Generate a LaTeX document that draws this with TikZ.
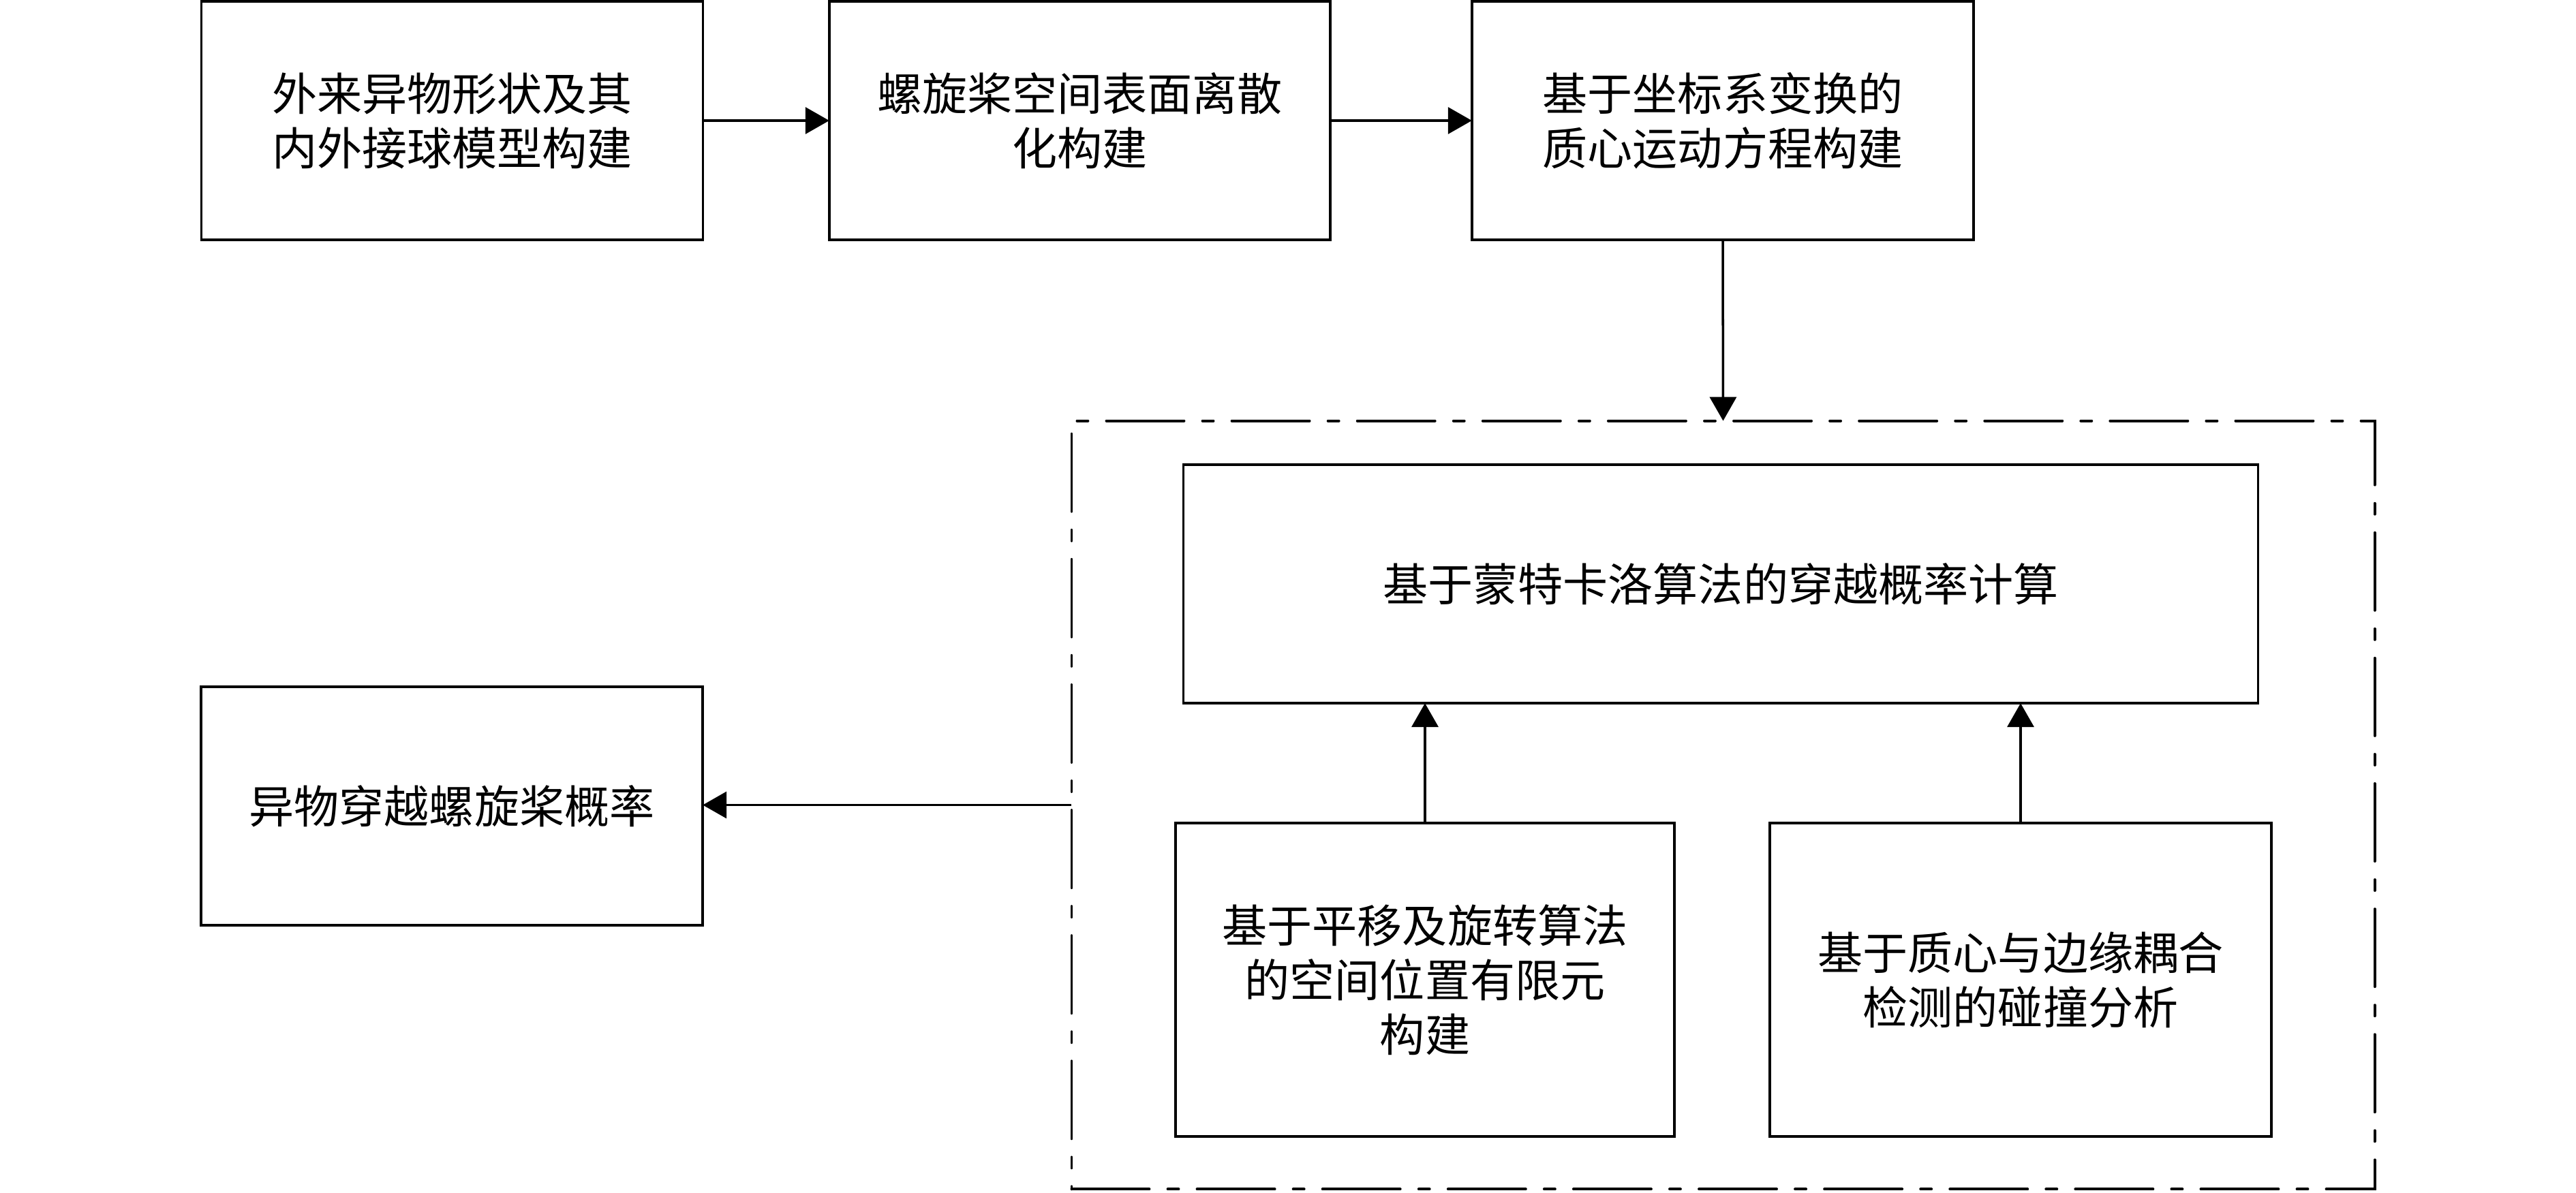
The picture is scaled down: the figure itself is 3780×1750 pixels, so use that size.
\documentclass[tikz,border=0pt]{standalone}
\usepackage{fontspec}
\newfontfamily\cjk{Noto Sans CJK SC}
\usetikzlibrary{arrows.meta}
\begin{document}
\begin{tikzpicture}[x=0.01cm,y=-0.01cm,
  box/.style={draw,line width=1pt,inner sep=0pt,outer sep=0pt,align=center,
    font=\cjk\fontsize{18.8pt}{22.8pt}\selectfont},
  grpbox/.style={draw,line width=1.1pt,line cap=round,
    dash pattern=on 1.14cm off 0.27cm on 0.16cm off 0.27cm,inner sep=0pt,outer sep=0pt},
  conn/.style={line width=1pt,-{Triangle[length=0.35cm,width=0.39cm]}}]
\useasboundingbox (0,0) rectangle (3780,1750);
\node[box,minimum width=7.36cm,minimum height=3.5cm] (b1) at (663.5,177) {外来异物形状及其\\内外接球模型构建};
\node[box,minimum width=7.35cm,minimum height=3.5cm] (b2) at (1584.5,177) {螺旋桨空间表面离散\\化构建};
\node[box,minimum width=7.36cm,minimum height=3.5cm] (b3) at (2528,177) {基于坐标系变换的\\质心运动方程构建};
\node[grpbox,minimum width=19.11cm,minimum height=11.27cm] (grp) at (2528.5,1181.5) {};
\node[box,minimum width=15.76cm,minimum height=3.5cm] (mc) at (2525,857) {基于蒙特卡洛算法的穿越概率计算};
\node[box,minimum width=7.32cm,minimum height=4.6cm] (pt) at (2091,1438) {基于平移及旋转算法\\的空间位置有限元\\构建};
\node[box,minimum width=7.36cm,minimum height=4.6cm] (cd) at (2965,1438) {基于质心与边缘耦合\\检测的碰撞分析};
\node[box,minimum width=7.36cm,minimum height=3.5cm] (res) at (663,1183) {异物穿越螺旋桨概率};
\draw[conn] (b1.east) -- (b2.west);
\draw[conn] (b2.east) -- (b3.west);
\draw[conn] (b3.south) -- (grp.north);
\draw[conn] (pt.north) -- (pt.north |- mc.south);
\draw[conn] (cd.north) -- (cd.north |- mc.south);
\draw[conn] (grp.west) -- (grp.west -| res.east);
\end{tikzpicture}
\end{document}
